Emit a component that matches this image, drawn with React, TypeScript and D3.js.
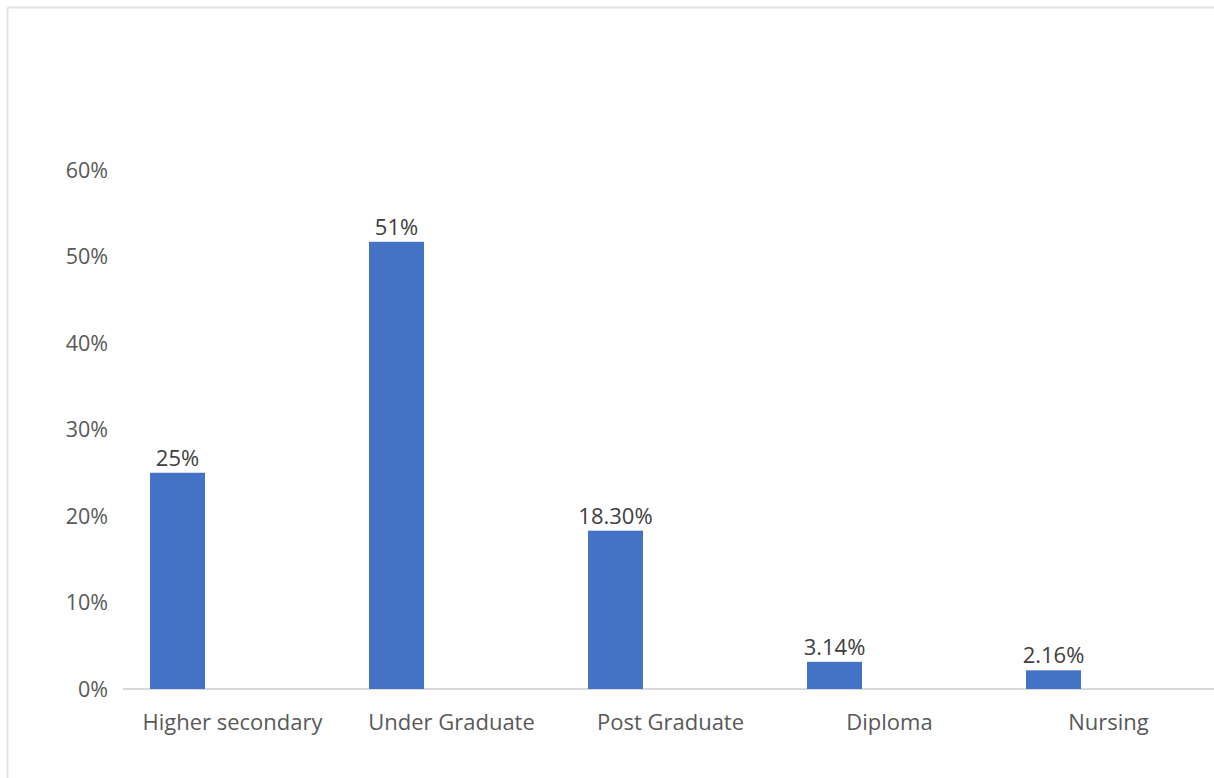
import React from "react";
import * as d3 from "d3";

const categories = ["Higher secondary", "Under Graduate", "Post Graduate", "Diploma", "Nursing"];
const values = [25, 51.7, 18.3, 3.14, 2.16];
const valueLabels = ["25%", "51%", "18.30%", "3.14%", "2.16%"];
const yTicks = [0, 10, 20, 30, 40, 50, 60];

const W = 1214;
const H = 778;
const FONT = "'Open Sans', 'Noto Sans', sans-serif";

export default function App() {
  const x = d3.scaleBand<string>().domain(categories).range([123, 123 + 219 * 5]).padding(0);
  const y = d3.scaleLinear().domain([0, 60]).range([689, 170]);
  const barOffset = 27;
  const barW = 55;

  return (
    <svg width={W} height={H} style={{ position: "absolute", left: 0, top: 0, background: "#fff" }}>
      <line x1={7.5} y1={7.5} x2={W} y2={7.5} stroke="#e3e3e3" strokeWidth={2} />
      <line x1={7.5} y1={7.5} x2={7.5} y2={H} stroke="#e3e3e3" strokeWidth={2} />
      {yTicks.map((t) => (
        <text key={t} x={108} y={y(t)} dy="0.35em" textAnchor="end" fontFamily={FONT} fontSize={21.5} fill="#595959">
          {t + "%"}
        </text>
      ))}
      <line x1={123} x2={W} y1={y(0)} y2={y(0)} stroke="#d9d9d9" strokeWidth={2} />
      {categories.map((c, i) => {
        const bx = (x(c) as number) + barOffset;
        return (
          <g key={c}>
            <rect x={bx} y={y(values[i])} width={barW} height={y(0) - y(values[i])} fill="#4472c4" />
            <text x={bx + barW / 2} y={y(values[i]) - 7} textAnchor="middle" fontFamily={FONT} fontSize={22} fill="#404040">
              {valueLabels[i]}
            </text>
            <text x={(x(c) as number) + x.bandwidth() / 2} y={730} textAnchor="middle" fontFamily={FONT} fontSize={22} fill="#595959">
              {c}
            </text>
          </g>
        );
      })}
    </svg>
  );
}
